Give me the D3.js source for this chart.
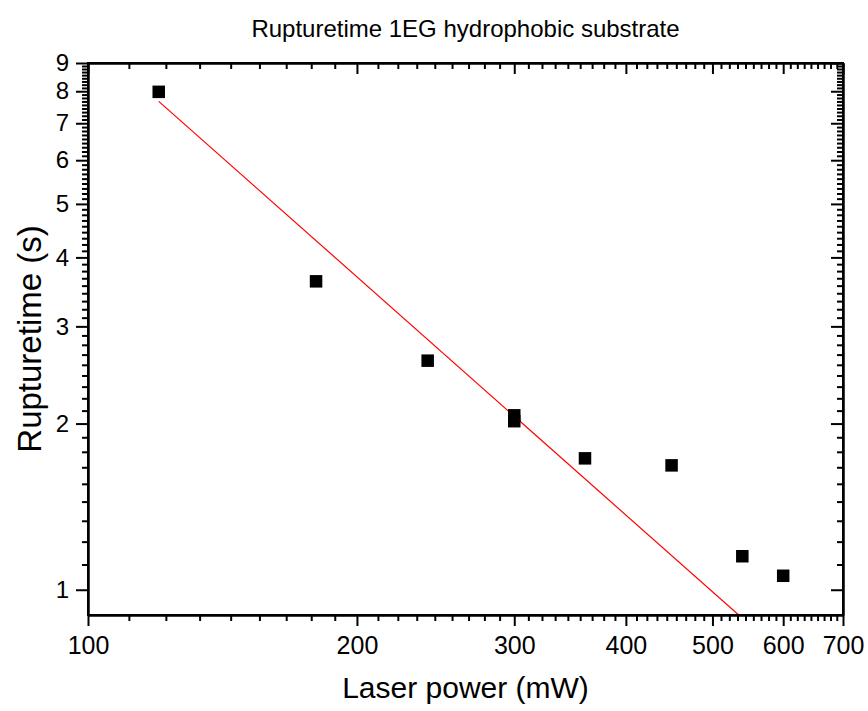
<!DOCTYPE html>
<html>
<head>
<meta charset="utf-8">
<script src="https://cdn.jsdelivr.net/npm/d3@7"></script>
<style>
  body { margin: 0; background: #fff; }
  svg { font-family: "Liberation Sans", Arial, sans-serif; }
  .axis path, .axis line { stroke: #000; stroke-width: 2; }
  .axis text { fill: #000; font-family: "Liberation Sans", Arial, sans-serif; }
  .xlab text { font-size: 25px; }
  .ylab text { font-size: 24px; }
</style>
</head>
<body>
<svg class="chart" width="868" height="711"></svg>
<script>
// laser power (mW) and rupture time (s)
var power = [120, 180, 240, 300, 300, 360, 450, 540, 600];
var rupture = [7.98, 3.62, 2.60, 2.07, 2.02, 1.73, 1.68, 1.15, 1.06];

// fitted line
var fitPower = [120, 535];
var fitTime = [7.67, 0.9];

var xTicks = [100, 200, 300, 400, 500, 600, 700];
var yTicks = [1, 2, 3, 4, 5, 6, 7, 8, 9];

var pLeft = 88, pRight = 843, pTop = 63, pBottom = 615;

var svg = d3.select(".chart");

var x = d3.scaleLog().domain([100, 700]).range([pLeft, pRight]);
var y = d3.scaleLog().domain([0.9, 9]).range([pBottom, pTop]);

// 8 minor ticks between each pair of major ticks
function minors(majors) {
  var out = [];
  for (var i = 0; i < majors.length - 1; i++) {
    var step = (majors[i + 1] - majors[i]) / 9;
    for (var k = 1; k < 9; k++) out.push(majors[i] + k * step);
  }
  return out;
}

svg.append("clipPath").attr("id", "plot")
  .append("rect")
    .attr("x", pLeft).attr("y", pTop)
    .attr("width", pRight - pLeft).attr("height", pBottom - pTop);

// fit line
svg.append("path")
    .datum(d3.zip(fitPower, fitTime))
    .attr("clip-path", "url(#plot)")
    .attr("fill", "none")
    .attr("stroke", "#ff0000")
    .attr("stroke-width", 1.2)
    .attr("d", d3.line().x(d => x(d[0])).y(d => y(d[1])));

// points
var sq = 12.5;
svg.selectAll(".pt")
    .data(d3.zip(power, rupture))
  .enter().append("rect")
    .attr("class", "pt")
    .attr("x", d => x(d[0]) - sq / 2)
    .attr("y", d => y(d[1]) - sq / 2)
    .attr("width", sq)
    .attr("height", sq)
    .attr("fill", "#000");

// bottom axis
svg.append("g").attr("class", "axis")
    .attr("transform", "translate(0," + pBottom + ")")
    .call(d3.axisBottom(x).tickValues(minors(xTicks)).tickSize(6).tickSizeOuter(0).tickFormat(""));
svg.append("g").attr("class", "axis xlab")
    .attr("transform", "translate(0," + pBottom + ")")
    .call(d3.axisBottom(x).tickValues(xTicks).tickSize(11).tickSizeOuter(0).tickPadding(10).tickFormat(d3.format("d")));

// top axis, ticks inside
svg.append("g").attr("class", "axis")
    .attr("transform", "translate(0," + pTop + ")")
    .call(d3.axisBottom(x).tickValues(minors(xTicks)).tickSize(6).tickSizeOuter(0).tickFormat(""));
svg.append("g").attr("class", "axis")
    .attr("transform", "translate(0," + pTop + ")")
    .call(d3.axisBottom(x).tickValues(xTicks).tickSize(11).tickSizeOuter(0).tickFormat(""));

// left axis
svg.append("g").attr("class", "axis")
    .attr("transform", "translate(" + pLeft + ",0)")
    .call(d3.axisLeft(y).tickValues(minors(yTicks)).tickSize(6).tickSizeOuter(0).tickFormat(""));
svg.append("g").attr("class", "axis ylab")
    .attr("transform", "translate(" + pLeft + ",0)")
    .call(d3.axisLeft(y).tickValues(yTicks).tickSize(12).tickSizeOuter(0).tickPadding(7).tickFormat(d3.format("d")));

// right axis, ticks inside
svg.append("g").attr("class", "axis")
    .attr("transform", "translate(" + pRight + ",0)")
    .call(d3.axisLeft(y).tickValues(minors(yTicks)).tickSize(6).tickSizeOuter(0).tickFormat(""));
svg.append("g").attr("class", "axis")
    .attr("transform", "translate(" + pRight + ",0)")
    .call(d3.axisLeft(y).tickValues(yTicks).tickSize(12).tickSizeOuter(0).tickFormat(""));

// frame
svg.append("rect")
    .attr("x", pLeft).attr("y", pTop)
    .attr("width", pRight - pLeft).attr("height", pBottom - pTop)
    .attr("fill", "none").attr("stroke", "#000").attr("stroke-width", 2);

// titles
svg.append("text")
    .attr("x", (pLeft + pRight) / 2).attr("y", 37)
    .attr("text-anchor", "middle")
    .style("font-size", "24px")
    .text("Rupturetime 1EG hydrophobic substrate");

svg.append("text")
    .attr("x", (pLeft + pRight) / 2).attr("y", 698)
    .attr("text-anchor", "middle")
    .style("font-size", "30px")
    .text("Laser power (mW)");

svg.append("text")
    .attr("transform", "translate(41," + 339 + ") rotate(-90)")
    .attr("text-anchor", "middle")
    .style("font-size", "33px")
    .text("Rupturetime (s)");
</script>
</body>
</html>
